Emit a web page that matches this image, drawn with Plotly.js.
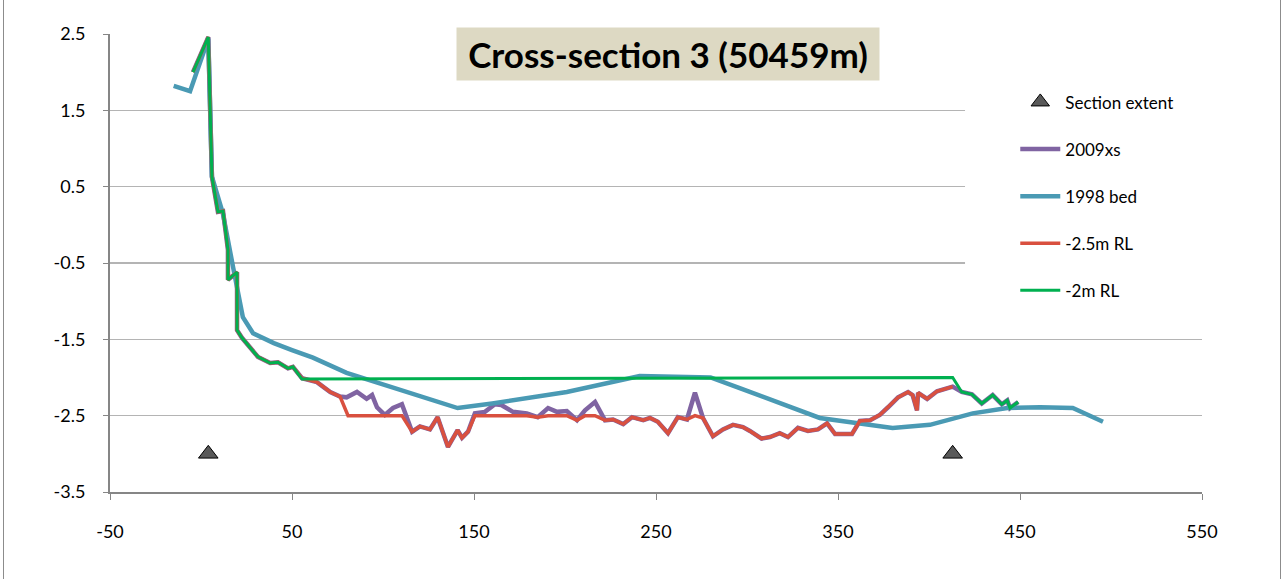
<!DOCTYPE html>
<html>
<head>
<meta charset="utf-8">
<script src="https://cdn.plot.ly/plotly-3.0.1.min.js"></script>
<style>
html,body{margin:0;padding:0;background:#fff;}
#wrap{position:relative;width:1284px;height:579px;}
#chart{width:1284px;height:579px;}
#frame{position:absolute;left:3px;top:-2px;width:1276px;height:585px;border-left:1px solid #8c8c8c;border-right:1px solid #8c8c8c;pointer-events:none;}
</style>
</head>
<body>
<div id="wrap"><div id="chart"></div><div id="frame"></div></div>
<script>
// Section extent markers
const extentX = [4, 413];
const extentY = [-3.0, -3.0];

// 2009 cross-section
const xs2009X = [-4.4, 4, 6, 9.3, 12.1, 14.8, 14.8, 19.8, 19.8, 22.5, 31.3, 38, 42.3, 47.8, 50.5, 55.5, 63.7, 71, 76.4, 80, 85.7, 91, 94, 96.7, 101, 105.5, 110.4, 116, 120.3, 125.8, 130, 135.7, 141, 143.4, 146.7, 150.5, 156, 161.5, 165, 171.4, 179, 185, 190.7, 195.6, 201, 206.6, 211, 216.5, 222, 226.4, 232, 236.8, 243, 246.7, 251, 256.6, 262, 267, 271.4, 275.8, 281.3, 286.8, 292.3, 297.8, 301.6, 308, 312.6, 318, 322.5, 328, 333.5, 339, 344, 348.4, 357.7, 362, 367.6, 373, 377.5, 383, 388.5, 391, 393.4, 394, 399, 404.4, 413, 418, 423.6, 429, 435, 440, 443, 444.5, 449];
const xs2009Y = [2.0, 2.46, 0.63, 0.17, 0.18, -0.33, -0.72, -0.62, -1.38, -1.48, -1.73, -1.81, -1.8, -1.88, -1.86, -2.01, -2.06, -2.19, -2.25, -2.26, -2.19, -2.28, -2.23, -2.39, -2.49, -2.4, -2.35, -2.71, -2.64, -2.68, -2.52, -2.91, -2.69, -2.79, -2.71, -2.47, -2.45, -2.35, -2.36, -2.45, -2.47, -2.52, -2.4, -2.45, -2.44, -2.56, -2.43, -2.32, -2.56, -2.55, -2.61, -2.52, -2.56, -2.53, -2.58, -2.73, -2.52, -2.55, -2.2, -2.53, -2.77, -2.68, -2.62, -2.65, -2.7, -2.8, -2.78, -2.73, -2.78, -2.66, -2.7, -2.68, -2.6, -2.74, -2.74, -2.57, -2.56, -2.49, -2.39, -2.26, -2.19, -2.23, -2.43, -2.2, -2.28, -2.18, -2.12, -2.19, -2.22, -2.34, -2.23, -2.35, -2.3, -2.4, -2.32];

// 1998 bed
const bed1998X = [-15, -6, 2, 4, 6, 12, 17.6, 23, 28.6, 40, 50, 61.5, 80, 141, 160, 201, 241, 280, 296, 340, 380, 400.5, 424, 443, 461, 479, 495.6];
const bed1998Y = [1.82, 1.75, 2.3, 2.44, 0.63, 0.15, -0.55, -1.21, -1.42, -1.55, -1.64, -1.74, -1.94, -2.4, -2.34, -2.19, -1.98, -2.0, -2.14, -2.53, -2.66, -2.62, -2.47, -2.4, -2.39, -2.4, -2.58];

// -2.5m RL
const rl25X = [-4.4, 4, 6, 9.3, 12.1, 14.8, 14.8, 19.8, 19.8, 22.5, 31.3, 38, 42.3, 47.8, 50.5, 55.5, 63.7, 71, 76.4, 80.8, 110.4, 116, 120.3, 125.8, 130, 135.7, 141, 143.4, 146.7, 150.5, 179, 185, 190.7, 201, 206.6, 211, 216.5, 222, 226.4, 232, 236.8, 243, 246.7, 251, 256.6, 262, 267, 271.4, 275.8, 281.3, 286.8, 292.3, 297.8, 301.6, 308, 312.6, 318, 322.5, 328, 333.5, 339, 344, 348.4, 357.7, 362, 367.6, 373, 377.5, 383, 388.5, 391, 393.4, 394, 399, 404.4, 413];
const rl25Y = [2.0, 2.46, 0.63, 0.17, 0.18, -0.33, -0.72, -0.62, -1.38, -1.48, -1.73, -1.81, -1.8, -1.88, -1.86, -2.01, -2.06, -2.19, -2.25, -2.5, -2.5, -2.71, -2.64, -2.68, -2.52, -2.91, -2.69, -2.79, -2.71, -2.5, -2.5, -2.52, -2.5, -2.5, -2.56, -2.5, -2.5, -2.56, -2.55, -2.61, -2.52, -2.56, -2.53, -2.58, -2.73, -2.52, -2.55, -2.5, -2.53, -2.77, -2.68, -2.62, -2.65, -2.7, -2.8, -2.78, -2.73, -2.78, -2.66, -2.7, -2.68, -2.6, -2.74, -2.74, -2.57, -2.56, -2.49, -2.39, -2.26, -2.19, -2.23, -2.43, -2.2, -2.28, -2.18, -2.12];

// -2m RL
const rl2X = [-4.4, 4, 6, 9.3, 12.1, 14.8, 14.8, 19.8, 19.8, 22.5, 31.3, 38, 42.3, 47.8, 50.5, 55.5, 413, 418, 423.6, 429, 435, 440, 443, 444.5, 449];
const rl2Y = [2.0, 2.46, 0.63, 0.17, 0.18, -0.33, -0.72, -0.62, -1.38, -1.48, -1.73, -1.81, -1.8, -1.88, -1.86, -2.02, -2.0, -2.19, -2.22, -2.34, -2.23, -2.35, -2.3, -2.4, -2.32];

const xTicks = [-50, 50, 150, 250, 350, 450, 550];
const yTicks = [-3.5, -2.5, -1.5, -0.5, 0.5, 1.5, 2.5];
const titleText = "Cross-section 3 (50459m)";

const traces = [
  {x: extentX, y: extentY, name: "Section extent", mode: "markers", type: "scatter", legendgroup: "a",
   marker: {symbol: "triangle-up", size: 17, color: "#595959", line: {color: "#000", width: 1}}},
  {x: xs2009X, y: xs2009Y, name: "2009xs", mode: "lines", type: "scatter", legendgroup: "b",
   line: {color: "#8064A2", width: 4.5}},
  {x: bed1998X, y: bed1998Y, name: "1998 bed", mode: "lines", type: "scatter", legendgroup: "c",
   line: {color: "#4A9AB4", width: 4.5}},
  {x: rl25X, y: rl25Y, name: "-2.5m RL", mode: "lines", type: "scatter", legendgroup: "d",
   line: {color: "#D9503F", width: 3.5}},
  {x: rl2X, y: rl2Y, name: "-2m RL", mode: "lines", type: "scatter", legendgroup: "e",
   line: {color: "#00B050", width: 3}}
];
traces[0].legendrank = 1; traces[1].legendrank = 2; traces[2].legendrank = 3; traces[3].legendrank = 4; traces[4].legendrank = 5;
const ordered = [traces[1], traces[2], traces[3], traces[4], traces[0]];

const layout = {
  width: 1284, height: 579,
  margin: {l: 110, r: 82, t: 34, b: 87},
  paper_bgcolor: "#fff", plot_bgcolor: "#fff",
  font: {family: "Lato, 'Open Sans', sans-serif", color: "#000"},
  showlegend: true,
  xaxis: {range: [-50, 550], tickvals: xTicks, ticktext: xTicks.map(String), showgrid: false, zeroline: false,
          showline: true, linecolor: "#868686", linewidth: 2, ticks: "outside", tickcolor: "#868686", ticklen: 6, tickwidth: 1,
          ticklabelstandoff: 16, tickfont: {size: 18, color: "#000"}},
  yaxis: {range: [-3.5, 2.5], tickvals: yTicks, ticktext: yTicks.map(String), showgrid: true, gridcolor: "#B4B4B4", gridwidth: 1.5,
          zeroline: false, showline: true, linecolor: "#868686", linewidth: 2, ticks: "outside", tickcolor: "#868686", ticklen: 5, tickwidth: 1,
          ticklabelstandoff: 14, tickfont: {size: 18, color: "#000"}},
  legend: {x: 0.829, y: 0.89, xanchor: "left", yanchor: "top", bgcolor: "rgba(0,0,0,0)", borderwidth: 0,
           font: {size: 17, color: "#000"}, traceorder: "grouped", tracegroupgap: 22, itemwidth: 40},
  shapes: [
    {type: "rect", xref: "paper", yref: "paper", x0: 0.783, x1: 1.0, y0: 0.38, y1: 0.9, fillcolor: "#fff", line: {width: 0}, layer: "above"}
  ],
  annotations: [
    {text: "<b>" + titleText + "</b>", xref: "paper", yref: "paper", x: 0.511, y: 0.956, xanchor: "center", yanchor: "middle",
     showarrow: false, bgcolor: "#DDD9C3", width: 420, height: 50, font: {size: 35, color: "#000", family: "Lato, sans-serif"}}
  ]
};

Plotly.newPlot("chart", ordered, layout, {displayModeBar: false, staticPlot: true});
</script>
</body>
</html>
